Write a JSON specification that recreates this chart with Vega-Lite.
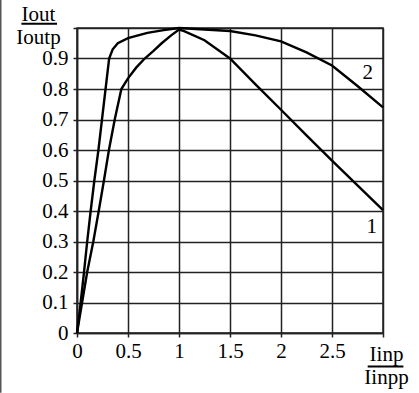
{
  "$schema": "https://vega.github.io/schema/vega-lite/v6.json",
  "width": 306,
  "height": 305,
  "autosize": {"type": "none"},
  "padding": {"left": 77, "top": 28, "right": 36, "bottom": 60},
  "background": "white",
  "config": {
    "view": {"stroke": "#222", "strokeWidth": 1.5},
    "font": "Liberation Serif"
  },
  "datasets": {
    "curves": [
      {"x": 0, "y": 0, "c": "1"}, {"x": 0.05, "y": 0.1, "c": "1"}, {"x": 0.1, "y": 0.2, "c": "1"},
      {"x": 0.16, "y": 0.3, "c": "1"}, {"x": 0.213, "y": 0.4, "c": "1"}, {"x": 0.264, "y": 0.5, "c": "1"},
      {"x": 0.313, "y": 0.6, "c": "1"}, {"x": 0.37, "y": 0.7, "c": "1"}, {"x": 0.435, "y": 0.8, "c": "1"},
      {"x": 0.5, "y": 0.835, "c": "1"}, {"x": 0.58, "y": 0.87, "c": "1"}, {"x": 0.664, "y": 0.9, "c": "1"},
      {"x": 0.75, "y": 0.925, "c": "1"}, {"x": 0.83, "y": 0.95, "c": "1"}, {"x": 0.92, "y": 0.975, "c": "1"},
      {"x": 1.0, "y": 0.995, "c": "1"}, {"x": 1.05, "y": 0.99, "c": "1"}, {"x": 1.25, "y": 0.96, "c": "1"},
      {"x": 1.5, "y": 0.9, "c": "1"}, {"x": 1.75, "y": 0.815, "c": "1"}, {"x": 2.0, "y": 0.732, "c": "1"},
      {"x": 2.25, "y": 0.648, "c": "1"}, {"x": 2.5, "y": 0.565, "c": "1"}, {"x": 2.75, "y": 0.484, "c": "1"},
      {"x": 3.0, "y": 0.403, "c": "1"},
      {"x": 0, "y": 0, "c": "2"}, {"x": 0.036, "y": 0.1, "c": "2"}, {"x": 0.069, "y": 0.2, "c": "2"},
      {"x": 0.1, "y": 0.3, "c": "2"}, {"x": 0.134, "y": 0.4, "c": "2"}, {"x": 0.17, "y": 0.5, "c": "2"},
      {"x": 0.21, "y": 0.6, "c": "2"}, {"x": 0.245, "y": 0.7, "c": "2"}, {"x": 0.28, "y": 0.8, "c": "2"},
      {"x": 0.315, "y": 0.9, "c": "2"}, {"x": 0.35, "y": 0.93, "c": "2"}, {"x": 0.4, "y": 0.95, "c": "2"},
      {"x": 0.5, "y": 0.967, "c": "2"}, {"x": 0.69, "y": 0.984, "c": "2"}, {"x": 0.85, "y": 0.993, "c": "2"},
      {"x": 1.0, "y": 1.0, "c": "2"}, {"x": 1.25, "y": 0.995, "c": "2"}, {"x": 1.5, "y": 0.99, "c": "2"},
      {"x": 1.75, "y": 0.976, "c": "2"}, {"x": 2.0, "y": 0.956, "c": "2"}, {"x": 2.25, "y": 0.92, "c": "2"},
      {"x": 2.5, "y": 0.877, "c": "2"}, {"x": 2.75, "y": 0.81, "c": "2"}, {"x": 3.0, "y": 0.74, "c": "2"}
    ],
    "labels": [
      {"x": 2.85, "y": 0.853, "t": "2"},
      {"x": 2.89, "y": 0.349, "t": "1"}
    ],
    "bars": [
      {"x": -0.545, "xe": -0.196, "y": 1.014, "ye": 1.014},
      {"x": 2.85, "xe": 3.2, "y": -0.11, "ye": -0.11}
    ],
    "border": [
      {"x": -0.75, "xe": -0.75, "y": 1.093, "ye": -0.196}
    ]
  },
  "encoding": {
    "x": {
      "field": "x", "type": "quantitative",
      "scale": {"domain": [0, 3], "nice": false, "zero": false},
      "axis": {
        "values": [0, 0.5, 1, 1.5, 2, 2.5, 3],
        "labelExpr": "datum.value >= 2.9 ? '' : format(datum.value, '~g')",
        "labelOverlap": false,
        "grid": true, "gridColor": "#222", "gridWidth": 1.5, "gridOpacity": 1,
        "domainColor": "#222", "domainWidth": 1.5,
        "tickColor": "#222", "tickSize": 4, "tickWidth": 1.5,
        "labelFont": "Liberation Serif", "labelFontSize": 21, "labelColor": "black",
        "labelPadding": 3, "labelFlush": false,
        "title": ["Iinp", "Iinpp"],
        "titleFont": "Liberation Serif", "titleFontSize": 21, "titleFontWeight": "normal",
        "titleColor": "black", "titleAngle": 0, "titleAlign": "center",
        "titleBaseline": "alphabetic", "titleX": 309, "titleY": 27, "titleLineHeight": 23
      }
    },
    "y": {
      "field": "y", "type": "quantitative",
      "scale": {"domain": [0, 1], "nice": false, "zero": false},
      "axis": {
        "values": [0, 0.1, 0.2, 0.3, 0.4, 0.5, 0.6, 0.7, 0.8, 0.9, 1.0],
        "labelExpr": "datum.value >= 0.95 ? '' : format(datum.value, '~g')",
        "labelOverlap": false,
        "grid": true, "gridColor": "#222", "gridWidth": 1.5, "gridOpacity": 1,
        "domainColor": "#222", "domainWidth": 1.5,
        "tickColor": "#222", "tickSize": 4, "tickWidth": 1.5,
        "labelFont": "Liberation Serif", "labelFontSize": 21, "labelColor": "black",
        "labelPadding": 5, "labelFlush": false,
        "title": ["Iout", "Ioutp"],
        "titleFont": "Liberation Serif", "titleFontSize": 21, "titleFontWeight": "normal",
        "titleColor": "black", "titleAngle": 0, "titleAlign": "center",
        "titleBaseline": "alphabetic", "titleX": -39, "titleY": -8, "titleLineHeight": 23
      }
    }
  },
  "layer": [
    {
      "data": {"name": "curves"},
      "mark": {"type": "line", "color": "black", "strokeWidth": 2.4, "clip": false},
      "encoding": {"detail": {"field": "c"}}
    },
    {
      "data": {"name": "labels"},
      "mark": {"type": "text", "font": "Liberation Serif", "fontSize": 21, "color": "black", "clip": false},
      "encoding": {"text": {"field": "t"}}
    },
    {
      "data": {"name": "bars"},
      "mark": {"type": "rule", "color": "black", "strokeWidth": 2, "clip": false},
      "encoding": {"x2": {"field": "xe"}, "y2": {"field": "ye"}}
    },
    {
      "data": {"name": "border"},
      "mark": {"type": "rule", "color": "#555", "strokeWidth": 2, "clip": false},
      "encoding": {"x2": {"field": "xe"}, "y2": {"field": "ye"}}
    }
  ]
}
